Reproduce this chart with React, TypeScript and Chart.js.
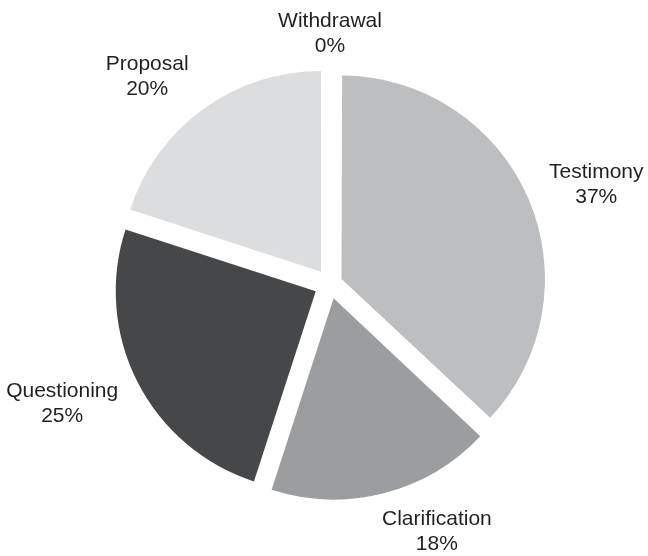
import React, { useEffect, useRef } from "react";
import { Chart, registerables } from "chart.js";

Chart.register(...registerables);

const categories = ["Testimony", "Clarification", "Questioning", "Proposal", "Withdrawal"];
const percentages = [37, 18, 25, 20, 0];
const sliceColors = ["#bdbec0", "#9c9d9f", "#464749", "#dcdddf", "#888888"];
// Layout-only tweaks (pixels) for the outside labels
const labelNudges: [number, number][] = [
  [12, 9],
  [38, -22],
  [-21, -8],
  [-20, 15],
  [0, 25],
];
// Chart.js divides arc offset by 4 and adds a small-angle fix; these give ~16px explode
const sliceOffsets = [50.3, 58.4, 64, 61, 0];

const labelPlugin = {
  id: "outsideLabels",
  afterDatasetsDraw(chart: any) {
    const ctx = chart.ctx;
    const meta = chart.getDatasetMeta(0);
    ctx.save();
    ctx.font = "21px 'Liberation Sans', Arial, sans-serif";
    ctx.fillStyle = "#231f20";
    ctx.textAlign = "center";
    ctx.textBaseline = "alphabetic";
    meta.data.forEach((arc: any, i: number) => {
      const { x, y, startAngle, endAngle, outerRadius } = arc.getProps(
        ["x", "y", "startAngle", "endAngle", "outerRadius"],
        true
      );
      const mid = (startAngle + endAngle) / 2;
      const d = outerRadius + 77;
      const ax = x + Math.cos(mid) * d + labelNudges[i][0];
      const ay = y + Math.sin(mid) * d + labelNudges[i][1];
      ctx.fillText(categories[i], ax, ay - 5);
      ctx.fillText(percentages[i] + "%", ax, ay + 20);
    });
    ctx.restore();
  },
};

export default function App() {
  const ref = useRef<HTMLCanvasElement | null>(null);
  useEffect(() => {
    if (!ref.current) return;
    const chart = new Chart(ref.current, {
      type: "pie",
      data: {
        labels: categories,
        datasets: [
          {
            data: percentages,
            backgroundColor: sliceColors,
            borderWidth: 0,
            offset: sliceOffsets,
            radius: 200,
          } as any,
        ],
      },
      options: {
        responsive: false,
        animation: false,
        layout: { padding: { top: 74, bottom: 62, left: 100, right: 88 } },
        plugins: {
          legend: { display: false },
          tooltip: { enabled: false },
        },
        events: [],
      },
      plugins: [labelPlugin],
    });
    return () => chart.destroy();
  }, []);
  return (
    <div style={{ position: "fixed", left: 0, top: 0, width: 648, height: 556, background: "#fff" }}>
      <canvas ref={ref} width={648} height={556} style={{ display: "block" }} />
    </div>
  );
}
